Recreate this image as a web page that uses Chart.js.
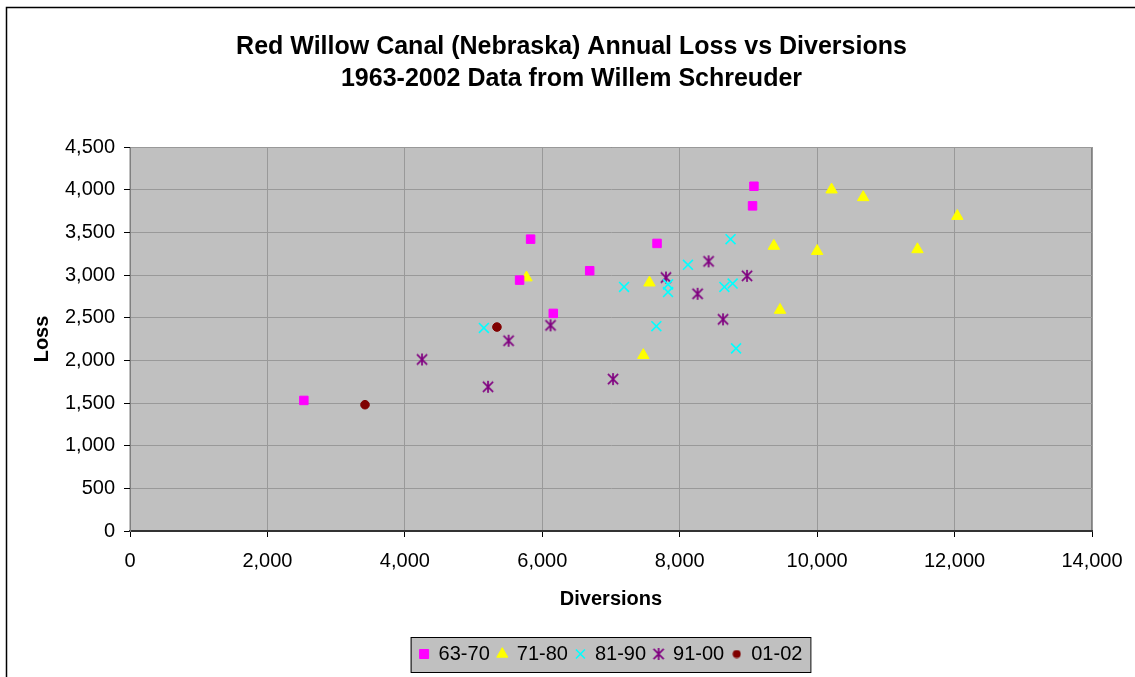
<!DOCTYPE html>
<html>
<head>
<meta charset="utf-8">
<title>Red Willow Canal Annual Loss vs Diversions</title>
<script src="https://cdn.jsdelivr.net/npm/chart.js@4/dist/chart.umd.min.js"></script>
<style>
  html, body { margin: 0; padding: 0; background: #fff; }
  canvas { display: block; }
</style>
</head>
<body>
<canvas id="chartLoss" width="1135" height="677"></canvas>
<script>
// ---------------------------------------------------------------------------
// Data (acre-ft)
// ---------------------------------------------------------------------------
const titleLines = ["Red Willow Canal (Nebraska) Annual Loss vs Diversions", "1963-2002 Data from Willem Schreuder"];
const seriesLabels = ["63-70", "71-80", "81-90", "91-00", "01-02"];

const div6370 = [2530, 5670, 5830, 6160, 6690, 7670, 9060, 9080];
const loss6370 = [1530, 2940, 3420, 2550, 3050, 3370, 3810, 4040];

const div7180 = [5770, 7560, 7470, 10210, 10670, 12040, 9370, 10000, 11460, 9460];
const loss7180 = [2970, 2910, 2060, 4000, 3910, 3690, 3340, 3280, 3300, 2590];

const div8190 = [5150, 7190, 7830, 7830, 7660, 8120, 8740, 8650, 8770, 8820];
const loss8190 = [2380, 2860, 2890, 2800, 2400, 3120, 3420, 2860, 2900, 2140];

const div9100 = [4250, 5510, 5210, 6120, 7030, 7800, 8420, 8260, 8980, 8630];
const loss9100 = [2010, 2230, 1690, 2410, 1780, 2970, 3160, 2780, 2990, 2480];

const div0102 = [3420, 5340];
const loss0102 = [1480, 2390];

const xTicks = { min: 0, max: 14000, step: 2000 };
const yTicks = { min: 0, max: 4500, step: 500 };

// ---------------------------------------------------------------------------
// Look
// ---------------------------------------------------------------------------
Chart.defaults.font.family = "'Liberation Sans', Arial, sans-serif";
Chart.defaults.color = "#000";

const PLOT_BG = "#c0c0c0";
const GRID = "#999999";

function toPoints(xs, ys) {
  return xs.map((x, i) => ({ x, y: ys[i] }));
}

// Excel style asterisk: an x with a vertical bar
function makeAsterisk(size, color, lw) {
  const c = document.createElement("canvas");
  c.width = size;
  c.height = size;
  const g = c.getContext("2d");
  const m = size / 2;
  const r = size / 2 - 1;
  g.strokeStyle = color;
  g.lineWidth = lw;
  g.beginPath();
  g.moveTo(m - r * 0.85, m - r * 0.85);
  g.lineTo(m + r * 0.85, m + r * 0.85);
  g.moveTo(m + r * 0.85, m - r * 0.85);
  g.lineTo(m - r * 0.85, m + r * 0.85);
  g.moveTo(m, m - r);
  g.lineTo(m, m + r);
  g.stroke();
  return c;
}

function makeDot(size, color) {
  const c = document.createElement("canvas");
  c.width = size;
  c.height = size;
  const g = c.getContext("2d");
  g.fillStyle = color;
  g.beginPath();
  g.arc(size / 2, size / 2, size / 2 - 0.5, 0, Math.PI * 2);
  g.fill();
  return c;
}

const asterisk = makeAsterisk(14, "#800080", 1.7);
const legendDot = makeDot(9, "#800000");

// ---------------------------------------------------------------------------
// Background, frame and legend box
// ---------------------------------------------------------------------------
const framePlugin = {
  id: "frame",
  beforeDraw(chart) {
    const { ctx, chartArea: a, width, height } = chart;
    ctx.save();
    ctx.fillStyle = "#fff";
    ctx.fillRect(0, 0, width, height);

    // outer chart border (runs off the right and bottom edges)
    ctx.strokeStyle = "#000";
    ctx.lineWidth = 1.5;
    ctx.strokeRect(6.5, 7.5, width + 20, height + 20);

    ctx.fillStyle = PLOT_BG;
    ctx.fillRect(a.left, a.top, a.right - a.left, a.bottom - a.top);
    ctx.strokeStyle = "#808080";
    ctx.lineWidth = 1;
    ctx.strokeRect(a.left, a.top + 0.5, a.right - a.left - 0.5, a.bottom - a.top);

    const boxes = chart.legend && chart.legend.legendHitBoxes;
    if (boxes && boxes.length) {
      const left = Math.min(...boxes.map((b) => b.left)) - 9;
      const right = Math.max(...boxes.map((b) => b.left + b.width)) + 8;
      const top = Math.min(...boxes.map((b) => b.top)) - 7;
      const bottom = Math.max(...boxes.map((b) => b.top + b.height)) + 8;
      ctx.fillStyle = PLOT_BG;
      ctx.fillRect(left, top, right - left, bottom - top);
      ctx.strokeStyle = "#000";
      ctx.lineWidth = 1;
      ctx.strokeRect(left + 0.5, top + 0.5, right - left, bottom - top);
    }
    ctx.restore();
  },
};

// ---------------------------------------------------------------------------
// Chart
// ---------------------------------------------------------------------------
const fmt = (v) => Number(v).toLocaleString("en-US");

new Chart(document.getElementById("chartLoss"), {
  type: "scatter",
  data: {
    datasets: [
      {
        label: seriesLabels[0],
        data: toPoints(div6370, loss6370),
        pointStyle: "rect",
        pointRadius: 6,
        backgroundColor: "#ff00ff",
        borderColor: "#ff00ff",
        borderWidth: 1,
      },
      {
        label: seriesLabels[1],
        data: toPoints(div7180, loss7180),
        pointStyle: "triangle",
        pointRadius: 6.6,
        backgroundColor: "#ffff00",
        borderColor: "#ffff00",
        borderWidth: 1,
      },
      {
        label: seriesLabels[2],
        data: toPoints(div8190, loss8190),
        pointStyle: "crossRot",
        pointRadius: 7,
        backgroundColor: "#00ffff",
        borderColor: "#00ffff",
        borderWidth: 1.6,
      },
      {
        label: seriesLabels[3],
        data: toPoints(div9100, loss9100),
        pointStyle: asterisk,
        pointRadius: 6,
        backgroundColor: "#800080",
        borderColor: "#800080",
        borderWidth: 1.5,
      },
      {
        label: seriesLabels[4],
        data: toPoints(div0102, loss0102),
        pointStyle: "circle",
        pointRadius: 4.3,
        backgroundColor: "#800000",
        borderColor: "#800000",
        borderWidth: 1,
      },
    ],
  },
  options: {
    responsive: false,
    animation: false,
    devicePixelRatio: 1,
    layout: { padding: { left: 8, right: 0, top: 8, bottom: 3 } },
    plugins: {
      title: {
        display: true,
        text: titleLines,
        color: "#000",
        font: { size: 25, weight: "bold", lineHeight: 1.28 },
        padding: { top: 23, bottom: 52 },
      },
      legend: {
        position: "bottom",
        fullSize: false,
        labels: {
          usePointStyle: true,
          boxWidth: 9,
          boxHeight: 9,
          padding: 8,
          color: "#000",
          font: { size: 20 },
          generateLabels(chart) {
            const items = Chart.defaults.plugins.legend.labels.generateLabels(chart);
            items.forEach((it) => {
              if (it.text === seriesLabels[4]) it.pointStyle = legendDot;
            });
            return items;
          },
        },
      },
      tooltip: { enabled: false },
    },
    scales: {
      x: {
        type: "linear",
        min: xTicks.min,
        max: xTicks.max,
        afterFit: (scale) => { scale.height = 105; },
        ticks: { stepSize: xTicks.step, font: { size: 20 }, padding: 12, maxRotation: 0, autoSkip: false, callback: fmt },
        grid: { color: GRID, tickColor: "#000", tickLength: 6 },
        border: { color: "#333", width: 2 },
        title: { display: true, text: "Diversions", font: { size: 20, weight: "bold" }, padding: { top: 4, bottom: 25 } },
      },
      y: {
        type: "linear",
        min: yTicks.min,
        max: yTicks.max,
        afterFit: (scale) => { scale.width = 122; },
        ticks: { stepSize: yTicks.step, font: { size: 20 }, padding: 9, autoSkip: false, callback: fmt },
        grid: { color: GRID, tickColor: "#000", tickLength: 6 },
        border: { color: "#808080", width: 1 },
        title: { display: true, text: "Loss", font: { size: 20, weight: "bold" }, padding: { top: 22, bottom: 4 } },
      },
      // empty right-hand axis that only reserves the gap right of the plot
      yRight: {
        type: "linear",
        position: "right",
        min: yTicks.min,
        max: yTicks.max,
        afterFit: (scale) => { scale.width = 43; },
        ticks: { display: false },
        grid: { display: false },
        border: { display: false },
      },
    },
  },
  plugins: [framePlugin],
});
</script>
</body>
</html>
